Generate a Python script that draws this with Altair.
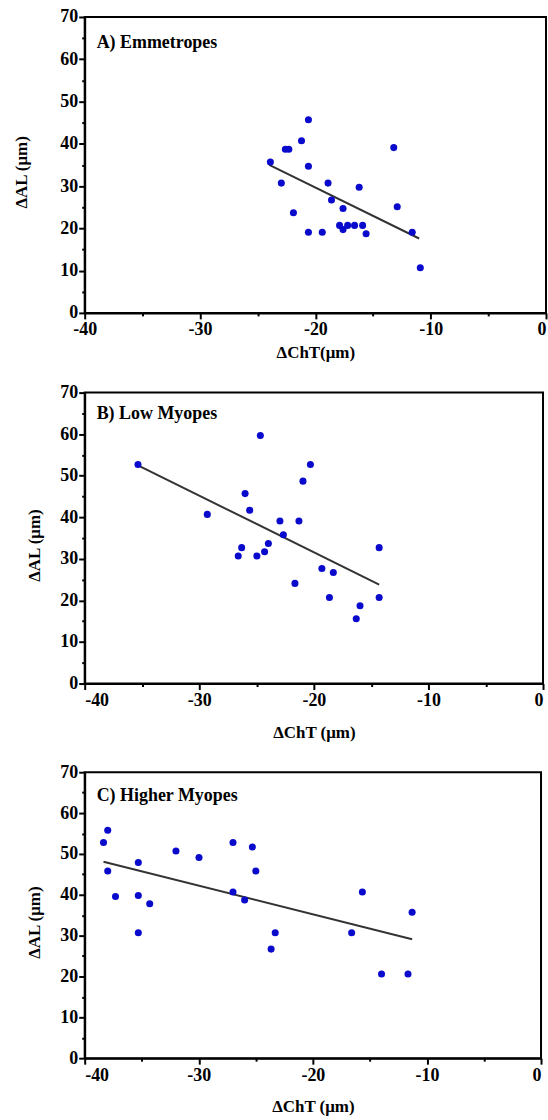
import altair as alt
import pandas as pd

# ---- Panel A: Emmetropes ----
a_x = [-23.9, -22.95, -22.6, -22.3, -21.9, -21.2, -20.6, -20.6, -20.6, -19.4, -18.9, -18.6,
       -17.6, -17.9, -17.6, -17.2, -16.6, -16.2, -15.9, -15.6, -13.2, -12.9, -11.6, -10.9]
a_y = [35.7, 30.7, 38.7, 38.7, 23.7, 40.7, 45.7, 34.7, 19.1, 19.1, 30.7, 26.7,
       24.7, 20.7, 19.7, 20.7, 20.7, 29.7, 20.7, 18.7, 39.1, 25.1, 19.1, 10.7]
a_line_x = [-24.0, -11.0]
a_line_y = [35.0, 17.6]

# ---- Panel B: Low Myopes ----
b_x = [-35.35, -29.3, -26.6, -26.3, -26.0, -25.6, -24.97, -24.67, -24.3, -23.97, -22.96, -22.66,
       -21.65, -21.3, -20.95, -20.3, -19.3, -18.64, -18.3, -16.3, -15.97, -14.3, -14.3]
b_y = [52.7, 40.7, 30.7, 32.7, 45.7, 41.7, 30.7, 59.7, 31.7, 33.7, 39.1, 35.8,
       24.1, 39.1, 48.7, 52.7, 27.7, 20.7, 26.7, 15.6, 18.7, 32.7, 20.7]
b_line_x = [-35.35, -14.3]
b_line_y = [52.5, 23.8]

# ---- Panel C: Higher Myopes ----
c_x = [-38.35, -37.98, -37.98, -37.3, -35.3, -35.3, -35.3, -34.3, -32.0, -29.98, -27.0, -27.0,
       -25.98, -25.3, -25.0, -23.66, -23.3, -16.6, -15.66, -13.98, -11.66, -11.3]
c_y = [52.8, 55.8, 45.8, 39.6, 47.9, 39.8, 30.7, 37.8, 50.7, 49.1, 52.8, 40.7,
       38.7, 51.7, 45.8, 26.7, 30.7, 30.7, 40.7, 20.6, 20.6, 35.7]
c_line_x = [-38.35, -11.3]
c_line_y = [48.1, 29.1]

labels = ["A) Emmetropes", "B) Low Myopes", "C) Higher Myopes"]
x_titles = ["\u0394ChT(\u03bcm)", "\u0394ChT (\u03bcm)", "\u0394ChT (\u03bcm)"]
y_title = "\u0394AL (\u03bcm)"
x_ticks = list(range(-40, 1, 5))
y_ticks = list(range(0, 71, 5))

FONT = "Liberation Serif"
DOT = "#0a0acc"


def panel(xs, ys, lx, ly, label, xtitle, w, h, ytx, xtpad, lab_y, last_right):
    pts = pd.DataFrame({"x": xs, "y": ys})
    ln = pd.DataFrame({"x": lx, "y": ly})
    xscale = alt.Scale(domain=[-40, 0], nice=False, zero=False)
    yscale = alt.Scale(domain=[0, 70], nice=False)
    xaxis_kw = dict(
        values=x_ticks,
        labelExpr="datum.value % 10 === 0 ? '' + datum.value : ''",
        tickSize={"condition": {"test": "datum.value % 10 === 0", "value": 6}, "value": 3},
        labelPadding=2,
        labelOverlap=False,
        title=xtitle,
        titlePadding=xtpad,
    )
    if last_right:
        xaxis_kw["labelAlign"] = {"condition": {"test": "datum.value === 0", "value": "right"},
                                  "value": "center"}
    xaxis = alt.Axis(**xaxis_kw)
    yaxis = alt.Axis(
        values=y_ticks,
        labelExpr="datum.value % 10 === 0 ? '' + datum.value : ''",
        tickSize={"condition": {"test": "datum.value % 10 === 0", "value": 6}, "value": 3},
        labelPadding=1,
        labelOverlap=False,
        title=y_title,
        titleAngle=270,
        titleX=ytx,
        titleY=h / 2 + 7,
        titleBaseline="bottom",
        titleAlign="center",
    )
    line = alt.Chart(ln).mark_line(color="#333333", strokeWidth=2).encode(
        x=alt.X("x:Q", scale=xscale, axis=xaxis),
        y=alt.Y("y:Q", scale=yscale, axis=yaxis),
    )
    dots = alt.Chart(pts).mark_circle(size=50, color=DOT, opacity=1).encode(
        x=alt.X("x:Q", scale=xscale, axis=xaxis),
        y=alt.Y("y:Q", scale=yscale, axis=yaxis),
    )
    txt = alt.Chart(pd.DataFrame({"label": [label]})).mark_text(
        align="left", baseline="middle", font=FONT, fontSize=18, fontWeight="bold", color="black"
    ).encode(x=alt.value(12), y=alt.value(lab_y), text="label:N")
    return alt.layer(line, dots, txt).properties(width=w, height=h)


pa = panel(a_x, a_y, a_line_x, a_line_y, labels[0], x_titles[0], 463, 297, -54, 6, 26, True)
pb = panel(b_x, b_y, b_line_x, b_line_y, labels[1], x_titles[1], 460, 292, -41, 15, 21, False)
pc = panel(c_x, c_y, c_line_x, c_line_y, labels[2], x_titles[2], 458, 287, -41, 15, 24, False)

chart = alt.vconcat(pa, pb, pc, spacing=21).properties(
    padding={"left": 12, "top": 5, "right": 0, "bottom": 0},
    background="white",
).configure_view(
    stroke="black", strokeWidth=2
).configure_axis(
    domainColor="black", domainWidth=2, tickColor="black", tickWidth=2,
    labelFont=FONT, labelFontSize=18, labelFontWeight="bold", labelColor="black",
    titleFont=FONT, titleFontSize=17, titleFontWeight="bold", titleColor="black",
    grid=False,
)

chart.save("out.html", embed_options={"renderer": "svg", "actions": False})
